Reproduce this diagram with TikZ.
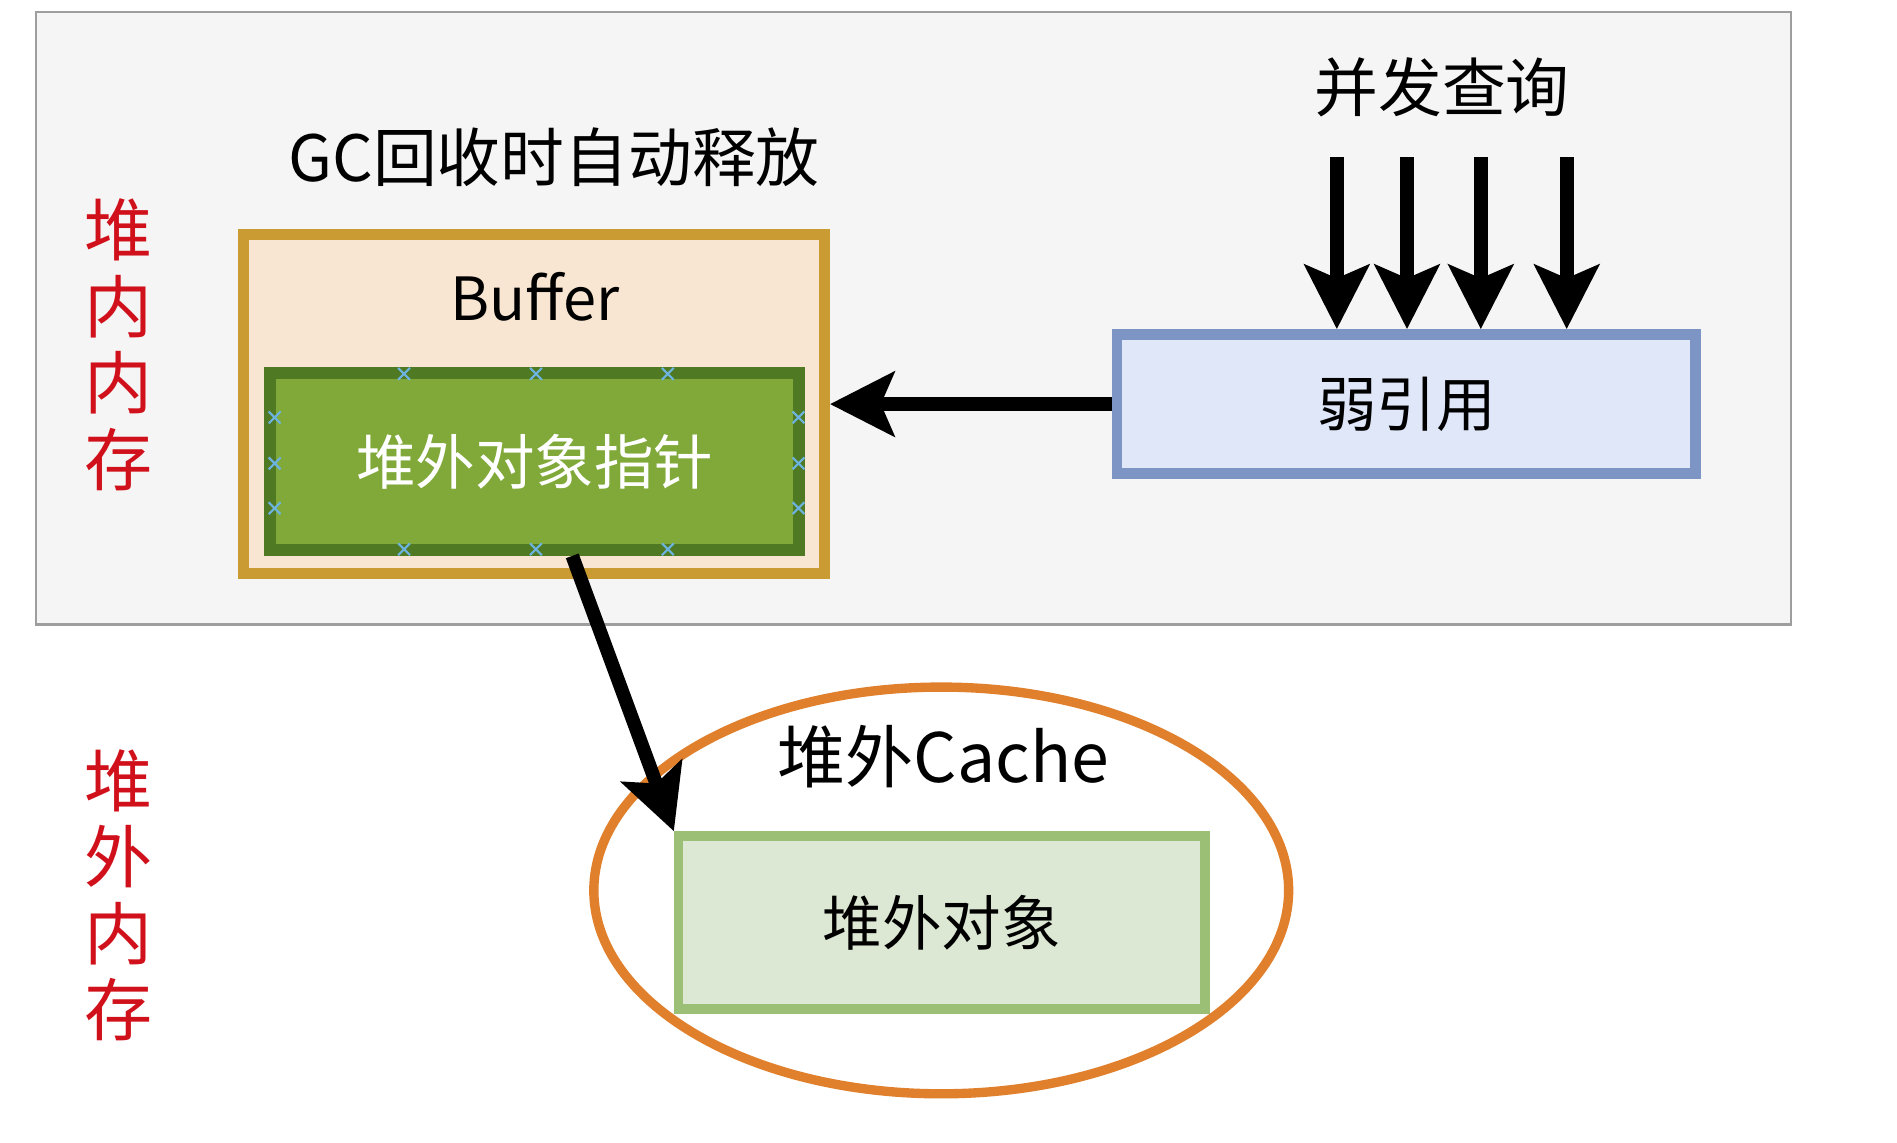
\documentclass[tikz,border=0pt]{standalone}
\usepackage{fontspec}
\newfontfamily\cjk{Noto Sans CJK SC}
\usetikzlibrary{arrows.meta,shapes.geometric,shapes.misc,positioning}

\definecolor{fondgris}{HTML}{F5F5F5}
\definecolor{bordgris}{HTML}{9E9E9E}
\definecolor{fondbuffer}{HTML}{F8E6D2}
\definecolor{bordbuffer}{HTML}{C99B32}
\definecolor{vertfonce}{HTML}{4F7A23}
\definecolor{vertclair}{HTML}{80A93A}
\definecolor{fondbleu}{HTML}{DFE7F8}
\definecolor{bordbleu}{HTML}{7C95C5}
\definecolor{bordcache}{HTML}{E0802C}
\definecolor{fondobjet}{HTML}{DCE8D4}
\definecolor{bordobjet}{HTML}{9CBF76}
\definecolor{rouge}{HTML}{D0111B}
\definecolor{croixbleu}{HTML}{6DB3E0}

\tikzset{
  texte/.style={font=\cjk\fontsize{15}{18}\selectfont, inner sep=0pt},
  petit/.style={font=\cjk\fontsize{14}{17}\selectfont, inner sep=0pt},
  zone/.style={font=\cjk\fontsize{16}{19}\selectfont, text=rouge, align=center, inner sep=0pt},
  boite/.style={rectangle, inner sep=0pt, line width=2.5pt},
  fleche/.style={line width=3.2pt, -{Stealth[length=0.53cm,width=0.53cm,inset=0.11cm]}},
  croix/.style={cross out, draw=croixbleu, minimum size=0.08cm, inner sep=0pt, line width=0.5pt}
}

\begin{document}
\begin{tikzpicture}[x=0.01cm,y=-0.01cm]
\useasboundingbox (0,0) rectangle (1568,944);

%% le fond gris du tas
\node[rectangle, draw=bordgris, fill=fondgris, line width=0.6pt, minimum width=14.5cm, minimum height=5.06cm] (tas) at (755,263) {};

%% les deux zones
\node[zone] (zonetas) at (98,285) {堆\\[-1pt]内\\[-1pt]内\\[-1pt]存};
\node[zone] (zonehors) at (98,740) {堆\\[-1pt]外\\[-1pt]内\\[-1pt]存};

%% le buffer et son pointeur
\node[texte] (gc) at (458,130) {GC回收时自动释放};
\node[boite, draw=bordbuffer, fill=fondbuffer, minimum width=4.8cm, minimum height=2.8cm] (buffer) at (441.5,334) {};
\node[petit] (buffertxt) at (442,245) {Buffer};
\node[boite, draw=vertfonce, fill=vertclair, line width=2.8pt, minimum width=4.37cm, minimum height=1.46cm, text=white, font=\cjk\fontsize{14}{17}\selectfont] (pointeur) at (442,381.5) {堆外对象指针};

%% les petites croix bleues
\foreach \x in {334,443,552} {
  \node[croix] at (\x,309) {};
  \node[croix] at (\x,454) {};
}
\foreach \y in {345,383,420} {
  \node[croix] at (227,\y) {};
  \node[croix] at (660,\y) {};
}

%% la référence faible
\node[texte] (requete) at (1192,72) {并发查询};
\node[boite, draw=bordbleu, fill=fondbleu, minimum width=4.78cm, minimum height=1.15cm, font=\cjk\fontsize{14}{17}\selectfont] (faible) at (1162.5,334) {弱引用};

\foreach \x [count=\i] in {1105,1163,1224,1295} {
  \coordinate (req\i) at (\x,130);
  \draw[fleche] (req\i) -- (req\i |- faible.north);
}
\draw[fleche] (faible.west) -- (buffer.east);

%% le cache hors tas
\node[ellipse, draw=bordcache, line width=2.2pt, minimum width=5.74cm, minimum height=3.36cm, inner sep=0pt] (cache) at (778,736) {};
\node[texte, font=\cjk\fontsize{16}{19}\selectfont] (cachetxt) at (780,625) {堆外Cache};
\node[boite, draw=bordobjet, fill=fondobjet, line width=2.2pt, minimum width=4.35cm, minimum height=1.43cm, font=\cjk\fontsize{14}{17}\selectfont] (objet) at (778.5,762.5) {堆外对象};

\draw[fleche] ([xshift=0.31cm]pointeur.south) -- (objet.north west);

\end{tikzpicture}
\end{document}
